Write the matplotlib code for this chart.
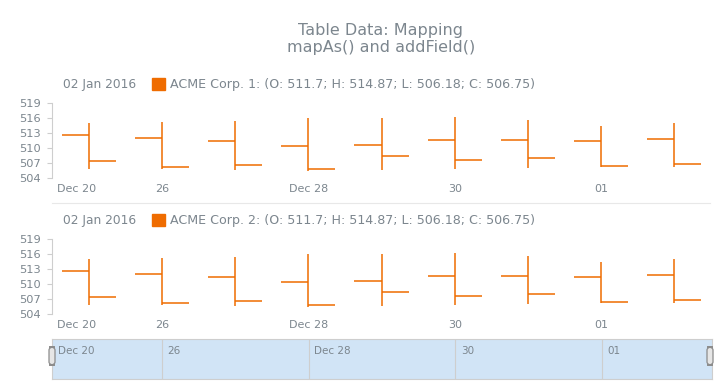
import numpy as np
import matplotlib.pyplot as plt
from matplotlib.patches import Rectangle, FancyBboxPatch
from matplotlib.transforms import ScaledTranslation

# daily OHLC values (same data mapped in both plots)
days = ['Dec 25', 'Dec 26', 'Dec 27', 'Dec 28', 'Dec 29', 'Dec 30', 'Dec 31', 'Jan 01', 'Jan 02']
open_ = [512.6, 511.9, 511.3, 510.4, 510.6, 511.5, 511.6, 511.4, 511.7]
high = [515.0, 515.1, 515.4, 515.9, 515.9, 516.15, 515.5, 514.35, 514.87]
low = [505.7, 505.7, 505.5, 505.3, 505.5, 505.7, 506.05, 506.1, 506.18]
close = [507.45, 506.25, 506.5, 505.85, 508.3, 507.5, 508.05, 506.45, 506.75]

x_ticks = [0, 1, 3, 5, 7]
x_labels = ['Dec 20', '26', 'Dec 28', '30', '01']
y_ticks = [504, 507, 510, 513, 516, 519]
series = ['ACME Corp. 1', 'ACME Corp. 2']

gray = '#7c868e'
line_gray = '#cecece'
orange = '#ef6c00'
W, H = 722, 388

fig = plt.figure(figsize=(W / 100, H / 100), dpi=100)
x = np.arange(len(days))

fig.text(381 / W, 1 - 30 / H, 'Table Data: Mapping', ha='center', va='center', fontsize=11.5, color=gray)
fig.text(381 / W, 1 - 47.5 / H, 'mapAs() and addField()', ha='center', va='center', fontsize=11.5, color=gray)

plot_tops = [102.7, 238.7]
for k, top in enumerate(plot_tops):
    ax = fig.add_axes([52 / W, 1 - (top + 75.3) / H, 659 / W, 75.3 / H])
    ax.vlines(x, low, high, color=orange, lw=1.1)
    ax.hlines(open_, x - 0.37, x, color=orange, lw=1.1)
    ax.hlines(close, x, x + 0.37, color=orange, lw=1.1)
    ax.set_xlim(-0.5, 8.5)
    ax.set_ylim(504, 519)
    ax.set_yticks(y_ticks)
    ax.set_xticks(x_ticks)
    ax.set_xticklabels(x_labels)
    for s in ['top', 'right', 'bottom']:
        ax.spines[s].set_visible(False)
    ax.spines['left'].set_color(line_gray)
    ax.tick_params(axis='y', colors=line_gray, labelcolor=gray, labelsize=8.2, length=3.6, pad=4.3)
    ax.tick_params(axis='x', length=0, labelcolor=gray, labelsize=8, pad=4)
    lab = ax.get_xticklabels()[0]
    lab.set_transform(lab.get_transform() + ScaledTranslation(-0.12, 0, fig.dpi_scale_trans))

    ly = top - 18.5
    fig.text(63 / W, 1 - ly / H, '02 Jan 2016', va='center', fontsize=8.8, color=gray)
    fig.patches.append(Rectangle((152 / W, 1 - (ly + 6) / H), 12.5 / W, 12.5 / H,
                                 transform=fig.transFigure, color=orange))
    fig.text(170 / W, 1 - ly / H,
             f'{series[k]}: (O: {open_[-1]}; H: {high[-1]}; L: {low[-1]}; C: {close[-1]})',
             va='center', fontsize=9.1, color=gray)

# separator between the plots
fig.add_artist(plt.Line2D([52 / W, 710 / W], [1 - 203 / H, 1 - 203 / H], color='#e8e8e8', lw=0.8))

# scroller
sc = fig.add_axes([52 / W, 1 - 379 / H, 660 / W, 40 / H])
sc.set_xlim(-0.5, 8.5)
sc.set_ylim(0, 1)
sc.set_facecolor('#d1e4f6')
for s in sc.spines.values():
    s.set_color(line_gray)
sc.set_xticks([])
sc.set_yticks([])
for pos in x_ticks[1:]:
    sc.axvline(pos, color=line_gray, lw=0.8)
for pos, lab in zip(x_ticks, x_labels):
    xp = -0.5 if pos == 0 else pos
    sc.annotate(lab, (xp, 1), xytext=(4, -5), textcoords='offset points',
                ha='left', va='top', fontsize=7.5, color=gray)
for hx in [49, 707]:
    fig.patches.append(FancyBboxPatch((hx / W, 1 - 365 / H), 6 / W, 18 / H,
                                      boxstyle='round,pad=0,rounding_size=0.008',
                                      transform=fig.transFigure, facecolor='#e6e6e6',
                                      edgecolor='#8c8c8c', lw=0.9))

fig.savefig('out.png', dpi=100)
